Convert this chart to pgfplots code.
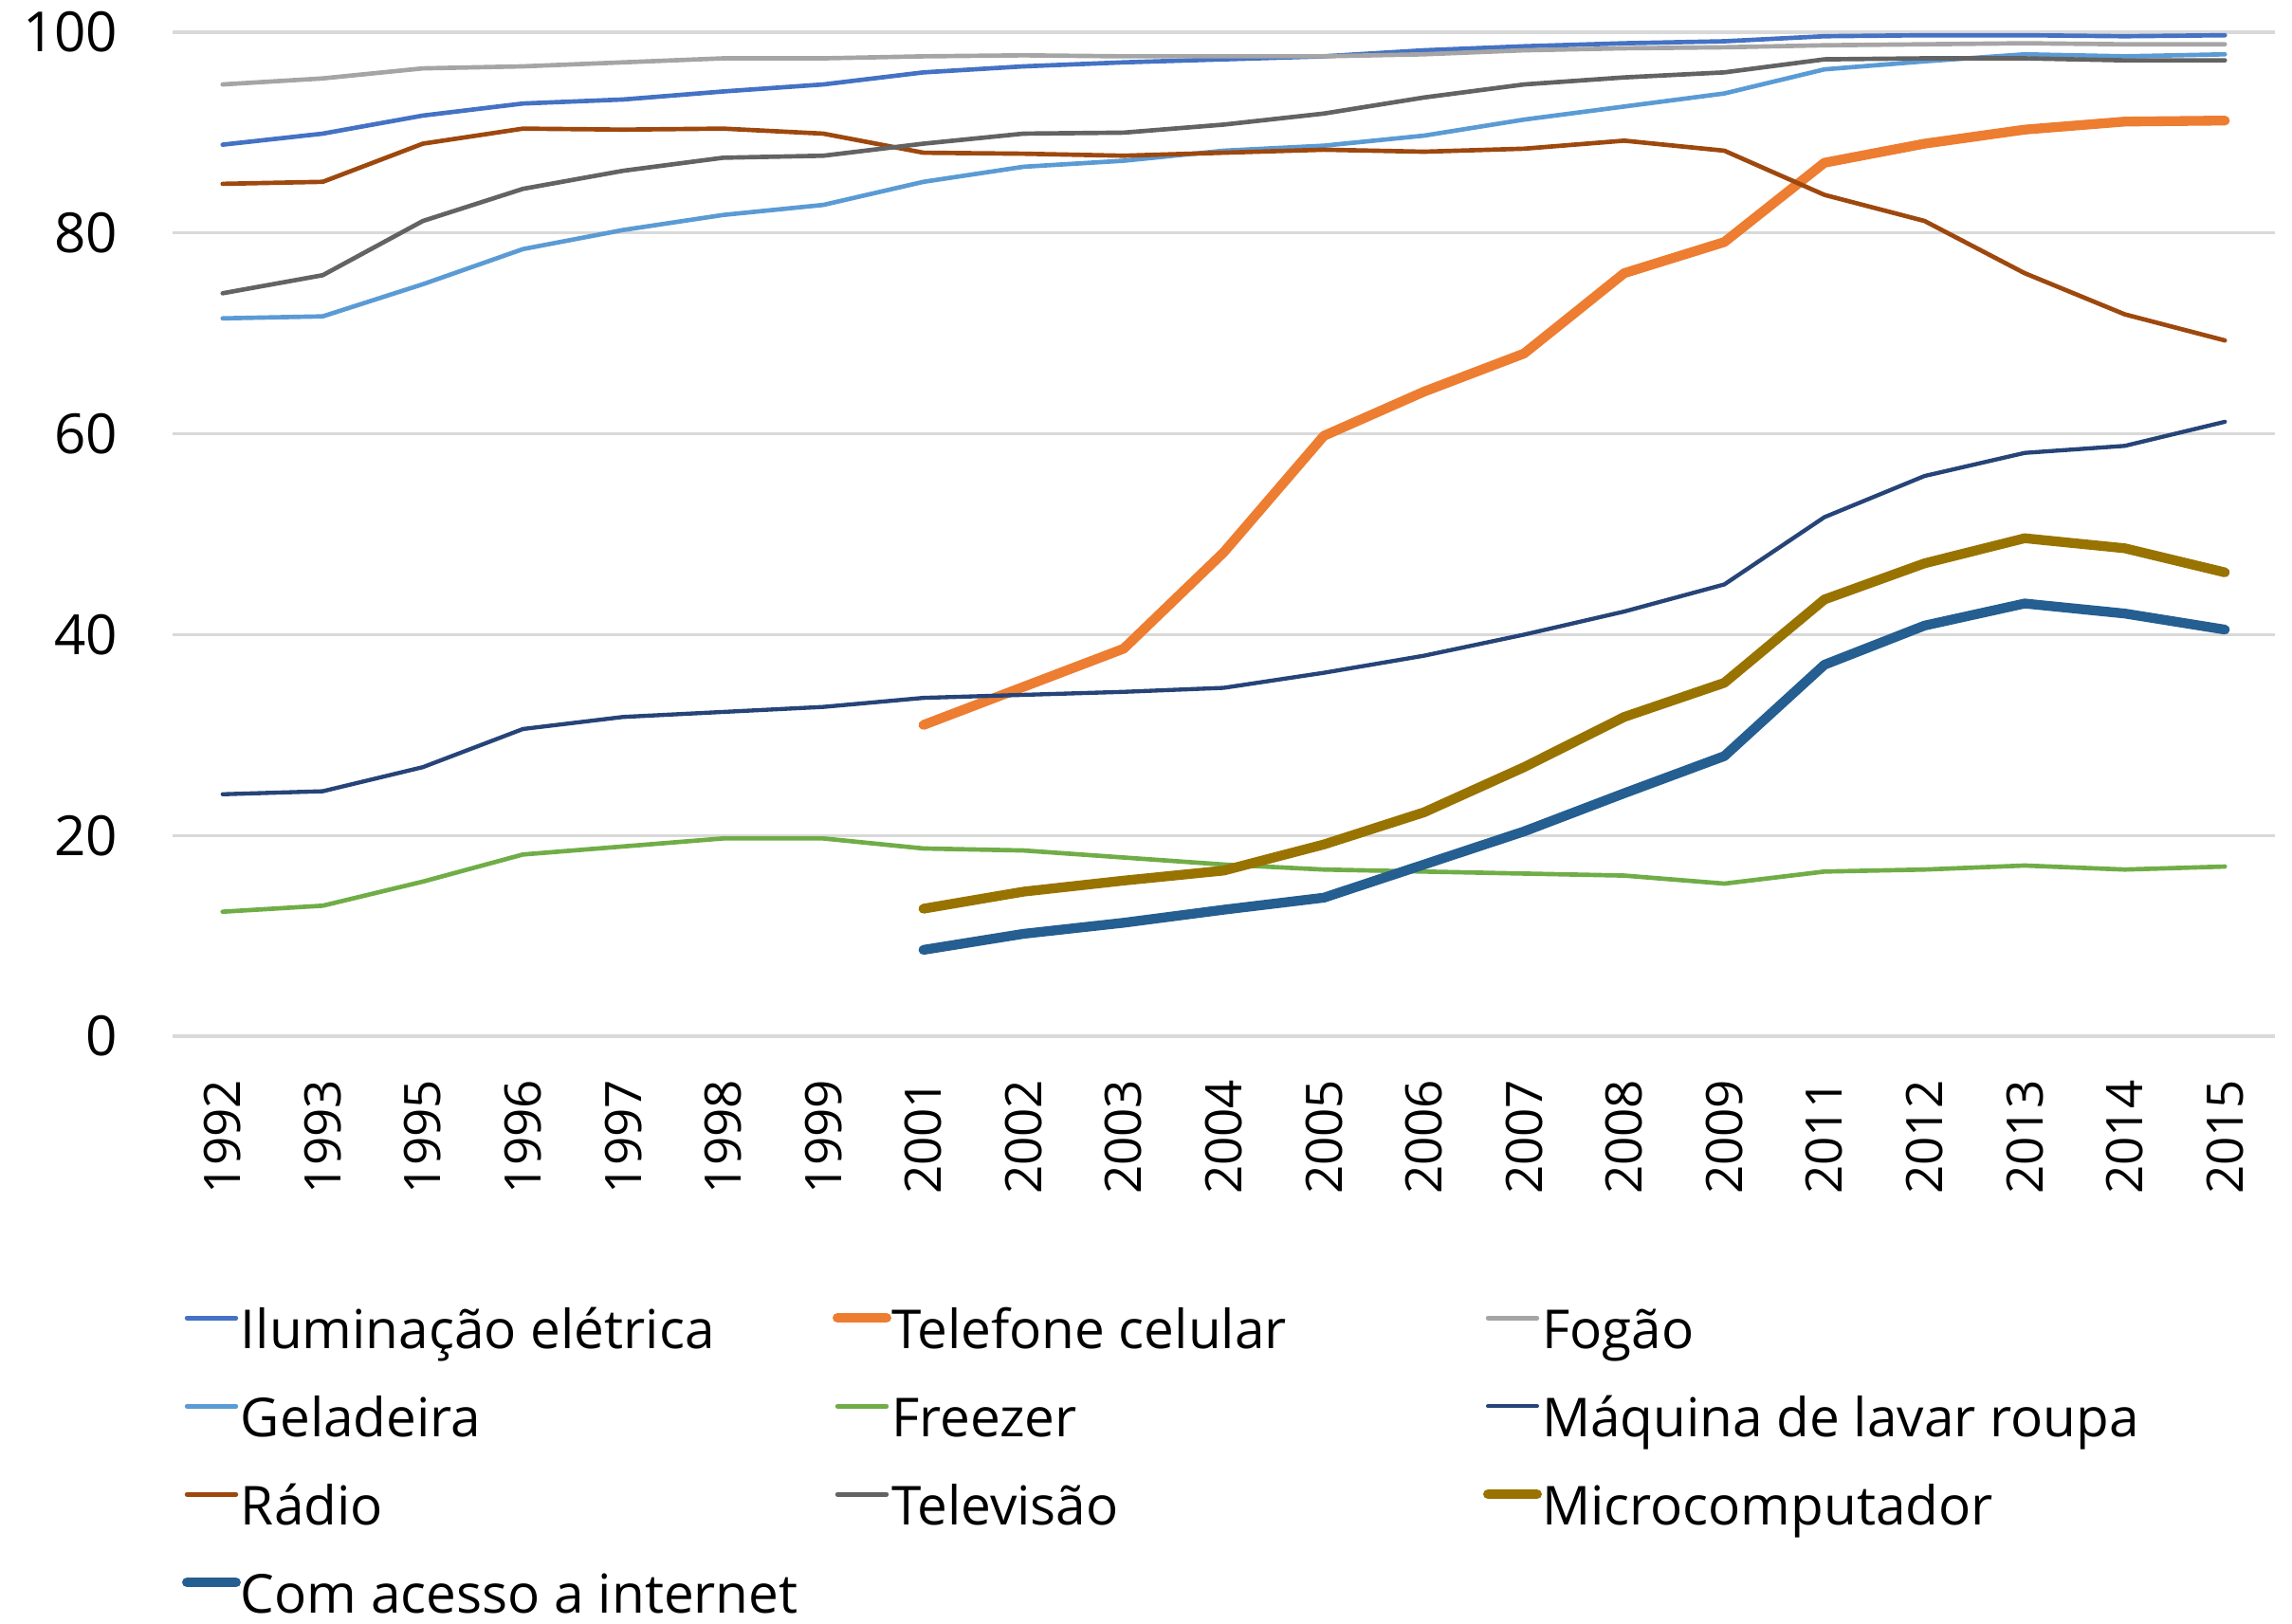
\documentclass[border=0pt]{standalone}
\usepackage{pgfplots}
\pgfplotsset{compat=1.18}
\usepackage{fontspec}
\setmainfont{Open Sans}
\definecolor{cIlum}{HTML}{4472C4}
\definecolor{cTel}{HTML}{ED7D31}
\definecolor{cFog}{HTML}{A5A5A5}
\definecolor{cGel}{HTML}{5B9BD5}
\definecolor{cFrz}{HTML}{70AD47}
\definecolor{cMaq}{HTML}{264478}
\definecolor{cRad}{HTML}{9E480E}
\definecolor{cTV}{HTML}{636363}
\definecolor{cMic}{HTML}{997300}
\definecolor{cNet}{HTML}{255E91}
\definecolor{cGrid}{HTML}{D9D9D9}
\newcommand{\lt}[1]{\makebox[187.2bp][l]{#1}}
\begin{document}
\begin{tikzpicture}
\useasboundingbox (-54.6bp,-186bp) rectangle (670.5bp,327.9bp);
\begin{axis}[
  scale only axis,
  width=665.1bp, height=317.7bp,
  xmin=-0.5, xmax=20.5, ymin=0, ymax=100,
  axis line style={draw=none},
  xtick={0,...,20},
  xticklabels={1992,1993,1995,1996,1997,1998,1999,2001,2002,2003,2004,2005,2006,2007,2008,2009,2011,2012,2013,2014,2015},
  x tick label style={rotate=90, anchor=east, font=\fontsize{15.9bp}{17bp}\selectfont},
  xticklabel shift=10.2bp,
  ytick={0,20,...,100},
  y tick label style={font=\fontsize{17.5bp}{19bp}\selectfont},
  yticklabel shift=13.8bp,
  /pgf/number format/assume math mode=true,
  major tick length=0pt,
  ymajorgrids,
  grid style={cGrid, line width=1bp},
  every axis plot/.append style={line cap=round, line join=round, mark=none},
  legend columns=3,
  legend cell align=left,
  legend image code/.code={\draw[#1, line cap=round] (0.5bp,5.5bp) -- (16bp,5.5bp);},
  legend style={at={(0,0)}, anchor=north west, xshift=3bp, yshift=-86.9bp,
    draw=none, fill=none, inner sep=0pt, outer sep=0pt, column sep=0pt, row sep=12.4bp,
    font=\fontsize{17bp}{19bp}\selectfont,
    nodes={inner sep=0pt, outer sep=0pt, text height=12bp, text depth=3.5bp}},
]
\addplot[cIlum, line width=1.4bp] coordinates {(0,88.8)(1,89.9)(2,91.7)(3,92.9)(4,93.3)(5,94.1)(6,94.8)(7,96.0)(8,96.6)(9,97.0)(10,97.3)(11,97.6)(12,98.2)(13,98.6)(14,98.9)(15,99.1)(16,99.6)(17,99.7)(18,99.7)(19,99.6)(20,99.7)};
\addlegendentry{\lt{Iluminação elétrica}}
\addplot[cTel, line width=3.1bp] coordinates {(7,31.0)(8,34.8)(9,38.6)(10,48.2)(11,59.8)(12,64.2)(13,68.0)(14,76.0)(15,79.1)(16,87.0)(17,88.9)(18,90.3)(19,91.1)(20,91.2)};
\addlegendentry{\lt{Telefone celular}}
\addplot[cFog, line width=1.4bp] coordinates {(0,94.8)(1,95.4)(2,96.4)(3,96.6)(4,97.0)(5,97.4)(6,97.4)(7,97.6)(8,97.7)(9,97.6)(10,97.6)(11,97.6)(12,97.8)(13,98.2)(14,98.4)(15,98.5)(16,98.7)(17,98.8)(18,98.9)(19,98.8)(20,98.8)};
\addlegendentry{\lt{Fogão}}
\addplot[cGel, line width=1.4bp] coordinates {(0,71.5)(1,71.7)(2,74.9)(3,78.4)(4,80.3)(5,81.8)(6,82.8)(7,85.1)(8,86.6)(9,87.2)(10,88.2)(11,88.7)(12,89.7)(13,91.3)(14,92.6)(15,93.9)(16,96.3)(17,97.1)(18,97.8)(19,97.6)(20,97.8)};
\addlegendentry{\lt{Geladeira}}
\addplot[cFrz, line width=1.4bp] coordinates {(0,12.4)(1,13.0)(2,15.4)(3,18.1)(4,18.9)(5,19.7)(6,19.7)(7,18.7)(8,18.5)(9,17.8)(10,17.1)(11,16.6)(12,16.4)(13,16.2)(14,16.0)(15,15.2)(16,16.4)(17,16.6)(18,17.0)(19,16.6)(20,16.9)};
\addlegendentry{\lt{Freezer}}
\addplot[cMaq, line width=1.3bp] coordinates {(0,24.1)(1,24.4)(2,26.8)(3,30.6)(4,31.8)(5,32.3)(6,32.8)(7,33.7)(8,34.0)(9,34.3)(10,34.7)(11,36.2)(12,37.9)(13,40.0)(14,42.3)(15,45.0)(16,51.7)(17,55.8)(18,58.1)(19,58.8)(20,61.2)};
\addlegendentry{\lt{Máquina de lavar roupa}}
\addplot[cRad, line width=1.4bp] coordinates {(0,84.9)(1,85.1)(2,88.9)(3,90.4)(4,90.3)(5,90.4)(6,89.9)(7,88.0)(8,87.9)(9,87.7)(10,88.0)(11,88.3)(12,88.1)(13,88.4)(14,89.2)(15,88.2)(16,83.8)(17,81.2)(18,76.0)(19,71.9)(20,69.3)};
\addlegendentry{\lt{Rádio}}
\addplot[cTV, line width=1.4bp] coordinates {(0,74.0)(1,75.8)(2,81.2)(3,84.4)(4,86.2)(5,87.5)(6,87.7)(7,88.9)(8,89.9)(9,90.0)(10,90.8)(11,91.9)(12,93.5)(13,94.8)(14,95.5)(15,96.0)(16,97.3)(17,97.4)(18,97.4)(19,97.2)(20,97.2)};
\addlegendentry{\lt{Televisão}}
\addplot[cMic, line width=3.1bp] coordinates {(7,12.7)(8,14.4)(9,15.5)(10,16.5)(11,19.1)(12,22.3)(13,26.8)(14,31.8)(15,35.2)(16,43.5)(17,47.1)(18,49.6)(19,48.6)(20,46.2)};
\addlegendentry{\lt{Microcomputador}}
\addplot[cNet, line width=3.1bp] coordinates {(7,8.6)(8,10.2)(9,11.3)(10,12.6)(11,13.8)(12,17.1)(13,20.4)(14,24.2)(15,27.9)(16,37.0)(17,40.9)(18,43.1)(19,42.1)(20,40.5)};
\addlegendentry{\lt{Com acesso a internet}}
\end{axis}
\end{tikzpicture}
\end{document}
